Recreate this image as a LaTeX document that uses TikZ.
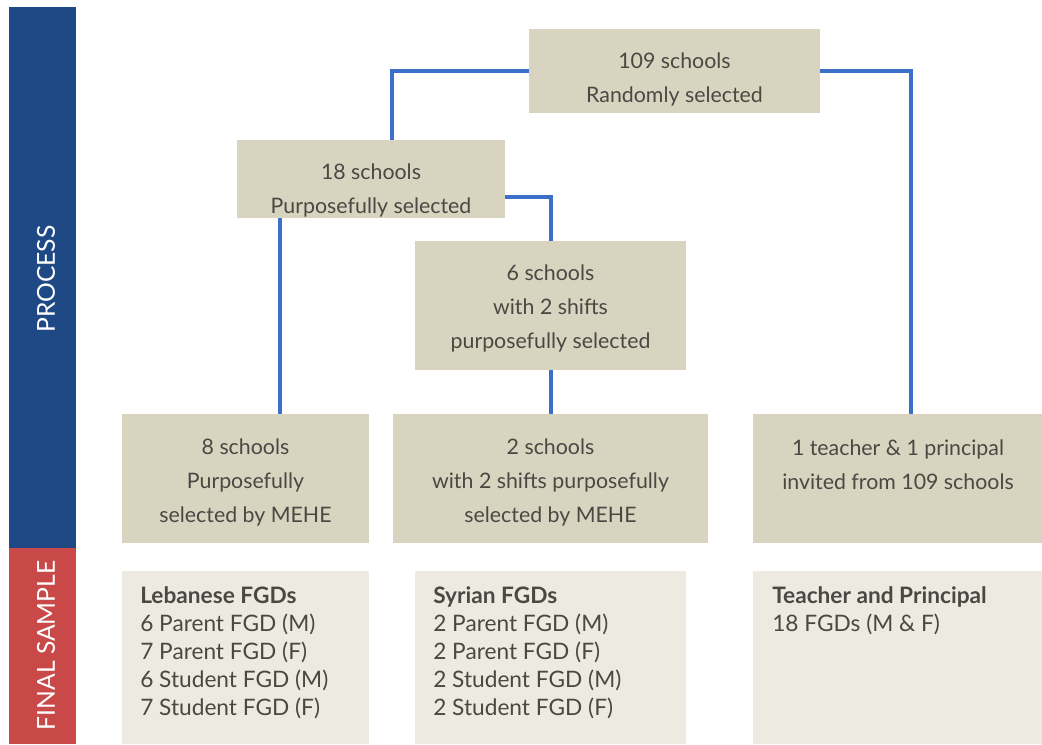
\documentclass[tikz,border=0pt]{standalone}
\usepackage{fontspec}
\setmainfont{Lato}
\usetikzlibrary{calc}
\definecolor{boxfill}{RGB}{216,212,192}
\definecolor{lightfill}{RGB}{237,235,225}
\definecolor{conncol}{RGB}{60,112,200}
\definecolor{barblue}{RGB}{31,73,132}
\definecolor{barred}{RGB}{201,73,73}
\definecolor{txt}{RGB}{75,72,68}
\tikzset{
  pbox/.style={fill=boxfill, draw=none, inner sep=0pt},
  ptext/.style={inner sep=0pt, align=center, text=txt,
    font=\fontsize{16}{25.5}\selectfont},
  fbox/.style={fill=lightfill, draw=none, inner sep=0pt},
  ftext/.style={inner sep=0pt, align=left, text=txt, anchor=north west,
    font=\fontsize{17}{21}\selectfont},
  conn/.style={draw=conncol, line width=3pt},
  barlabel/.style={text=white, rotate=90, font=\fontsize{18.5}{20}\selectfont}
}
\begin{document}
\begin{tikzpicture}[x=0.75pt,y=-0.75pt]
\useasboundingbox (0,0) rectangle (1042,744);
% side bars
\fill[barblue] (9,7) rectangle (76,548);
\fill[barred] (9,548) rectangle (76,744);
\node[barlabel] (lproc) at (46,279) {PROCESS};
\node[barlabel] (lfin) at (46,645.5) {FINAL SAMPLE};
% process boxes
\node[pbox, minimum width=218.25pt, minimum height=63pt] (n109) at (674.5,71) {};
\node[pbox, minimum width=201pt, minimum height=58.5pt] (n18) at (371,179) {};
\node[pbox, minimum width=203.25pt, minimum height=96.75pt] (n6) at (550.5,305.5) {};
\node[pbox, minimum width=185.25pt, minimum height=96.75pt] (n8) at (245.5,478.5) {};
\node[pbox, minimum width=236.25pt, minimum height=96.75pt] (n2) at (550.5,478.5) {};
\node[pbox, minimum width=216.75pt, minimum height=96.75pt] (nT) at (897.5,478.5) {};
\node[ptext] (t109) at (674.5,79) {109 schools\\Randomly selected};
\node[ptext] (t18) at (371,190.5) {18 schools\\Purposefully selected};
\node[ptext] (t6) at (550.5,308.5) {6 schools\\with 2 shifts\\purposefully selected};
\node[ptext] (t8) at (245.5,482) {8 schools\\Purposefully\\selected by MEHE};
\node[ptext] (t2) at (550.5,482) {2 schools\\with 2 shifts purposefully\\selected by MEHE};
\node[ptext] (tTp) at (898,465) {1 teacher \& 1 principal\\invited from 109 schools};
% final sample boxes
\node[fbox, minimum width=185.25pt, minimum height=129.75pt] (fL) at (245.5,657.5) {};
\node[fbox, minimum width=203.25pt, minimum height=129.75pt] (fS) at (550.5,657.5) {};
\node[fbox, minimum width=216.75pt, minimum height=129.75pt] (fT) at (897.5,657.5) {};
\node[ftext] (tL) at (140,586) {\textbf{Lebanese FGDs}\\6 Parent FGD (M)\\7 Parent FGD (F)\\6 Student FGD (M)\\7 Student FGD (F)};
\node[ftext] (tS) at (433,586) {\textbf{Syrian FGDs}\\2 Parent FGD (M)\\2 Parent FGD (F)\\2 Student FGD (M)\\2 Student FGD (F)};
\node[ftext] (tT) at (772,586) {\textbf{Teacher and Principal}\\18 FGDs (M \& F)};
% connectors
\draw[conn] (n109.west) -| ($(n18.north)+(21,0)$);
\draw[conn] (n109.east) -| ($(nT.north)+(13.5,0)$);
\draw[conn] ($(n18.east)+(0,18)$) -| (n6.north);
\coordinate (c18s) at ($(n18.south)+(-91,0)$);
\draw[conn] (c18s) -- (c18s |- n8.north);
\draw[conn] (n6.south) -- (n2.north);
\end{tikzpicture}
\end{document}
